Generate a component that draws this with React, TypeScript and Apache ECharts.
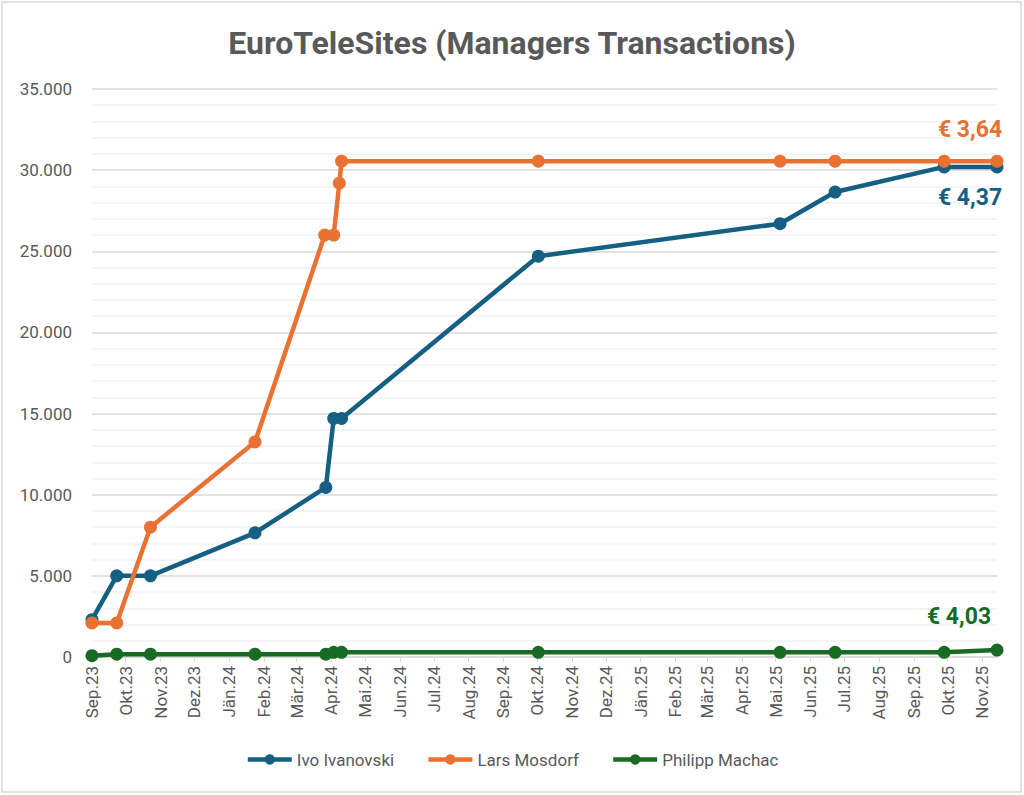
import React, { useEffect, useRef } from "react";
import * as echarts from "echarts";

const chartTitle = "EuroTeleSites (Managers Transactions)";
const monthNames = ["Jän", "Feb", "Mär", "Apr", "Mai", "Jun", "Jul", "Aug", "Sep", "Okt", "Nov", "Dez"];
const seriesNames = ["Ivo Ivanovski", "Lars Mosdorf", "Philipp Machac"];
const priceLabels = ["€ 4,37", "€ 3,64", "€ 4,03"];

const ivoDates = ["2023-09-01", "2023-09-23", "2023-10-23", "2024-01-24", "2024-03-27", "2024-04-03", "2024-04-10", "2024-10-02", "2025-05-05", "2025-06-23", "2025-09-28", "2025-11-14"];
const ivoValues = [2300, 5000, 5000, 7650, 10450, 14700, 14700, 24700, 26700, 28650, 30200, 30200];

const larsDates = ["2023-09-01", "2023-09-23", "2023-10-23", "2024-01-24", "2024-03-26", "2024-04-03", "2024-04-08", "2024-04-10", "2024-10-02", "2025-05-05", "2025-06-23", "2025-09-28", "2025-11-14"];
const larsValues = [2100, 2100, 8000, 13250, 26000, 26000, 29200, 30550, 30550, 30550, 30550, 30550, 30550];

const philippDates = ["2023-09-01", "2023-09-23", "2023-10-23", "2024-01-24", "2024-03-27", "2024-04-03", "2024-04-10", "2024-10-02", "2025-05-05", "2025-06-23", "2025-09-28", "2025-11-14"];
const philippValues = [80, 170, 170, 170, 170, 290, 290, 290, 290, 290, 290, 430];

const axisStart = "2023-09-01";
const axisEnd = "2025-11-14";

const colors = ["#156082", "#E97132", "#196B24"];
const FONT = "Roboto, 'Noto Sans', sans-serif";

function toTime(s: string): number {
  const [y, m, d] = s.split("-").map(Number);
  return new Date(y, m - 1, d).getTime();
}

function fmtThousands(v: number): string {
  return String(Math.round(v)).replace(/\B(?=(\d{3})+(?!\d))/g, ".");
}

function buildData(dates: string[], values: number[], label: string, color: string, pos: string, offset: number[]) {
  return dates.map((d, i) => {
    const item: any = { value: [toTime(d), values[i]] };
    if (i === dates.length - 1) {
      item.label = {
        show: true,
        position: pos,
        offset,
        formatter: label,
        color,
        fontSize: 23,
        fontWeight: "bold",
        fontFamily: FONT,
      };
    }
    return item;
  });
}

export default function App() {
  const ref = useRef<HTMLDivElement>(null);
  useEffect(() => {
    if (!ref.current) return;
    const chart = echarts.init(ref.current, undefined, { renderer: "svg" });
    const lineSeries = (name: string, color: string, data: any[]) => ({
      name,
      type: "line",
      data,
      color,
      symbol: "circle",
      symbolSize: 13,
      lineStyle: { width: 4.5, color },
      itemStyle: { color },
      emphasis: { disabled: true },
    });
    chart.setOption({
      animation: false,
      backgroundColor: "#ffffff",
      textStyle: { fontFamily: FONT },
      title: {
        text: chartTitle,
        left: "center",
        top: 22,
        textStyle: { fontSize: 32, fontWeight: "bold", color: "#595959", fontFamily: FONT },
      },
      graphic: [
        {
          type: "rect",
          shape: { x: 2, y: 2, width: 1019, height: 790 },
          style: { fill: "none", stroke: "#d9d9d9", lineWidth: 1.5 },
          silent: true,
        },
      ],
      legend: {
        bottom: 22,
        left: "center",
        itemWidth: 44,
        itemHeight: 13,
        itemGap: 32,
        lineStyle: { width: 4.5 },
        textStyle: { fontSize: 17, color: "#595959", fontFamily: FONT },
        data: seriesNames,
      },
      grid: { left: 92, right: 27, top: 89, bottom: 138 },
      xAxis: {
        type: "time",
        min: toTime(axisStart),
        max: toTime(axisEnd),
        minInterval: 28 * 86400000,
        maxInterval: 31 * 86400000,
        splitLine: { show: false },
        axisLine: { show: true, lineStyle: { color: "#d9d9d9", width: 1.5 } },
        axisTick: { show: true, length: 5, lineStyle: { color: "#d9d9d9" } },
        axisLabel: {
          rotate: 90,
          margin: 9,
          fontSize: 17,
          color: "#595959",
          fontFamily: FONT,
          formatter: (v: number) => {
            const d = new Date(v);
            return monthNames[d.getMonth()] + "." + String(d.getFullYear()).slice(2);
          },
        },
      },
      yAxis: {
        type: "value",
        min: 0,
        max: 35000,
        interval: 5000,
        axisLine: { show: false },
        axisTick: { show: false },
        axisLabel: {
          margin: 20,
          fontSize: 17,
          color: "#595959",
          fontFamily: FONT,
          formatter: (v: number) => fmtThousands(v),
        },
        splitLine: { show: true, lineStyle: { color: "#d9d9d9", width: 1.5 } },
        minorTick: { show: false, splitNumber: 5 },
        minorSplitLine: { show: true, lineStyle: { color: "#f0f0f0", width: 1.5 } },
      },
      series: [
        lineSeries(seriesNames[0], colors[0], buildData(ivoDates, ivoValues, priceLabels[0], colors[0], "bottom", [-27, 8])),
        lineSeries(seriesNames[1], colors[1], buildData(larsDates, larsValues, priceLabels[1], colors[1], "top", [-27, -9])),
        lineSeries(seriesNames[2], colors[2], buildData(philippDates, philippValues, priceLabels[2], colors[2], "top", [-38, -11])),
      ],
    });
    return () => chart.dispose();
  }, []);
  return (
    <div
      ref={ref}
      style={{ position: "fixed", left: 0, top: 0, width: 1024, height: 795, background: "#fff" }}
    />
  );
}
